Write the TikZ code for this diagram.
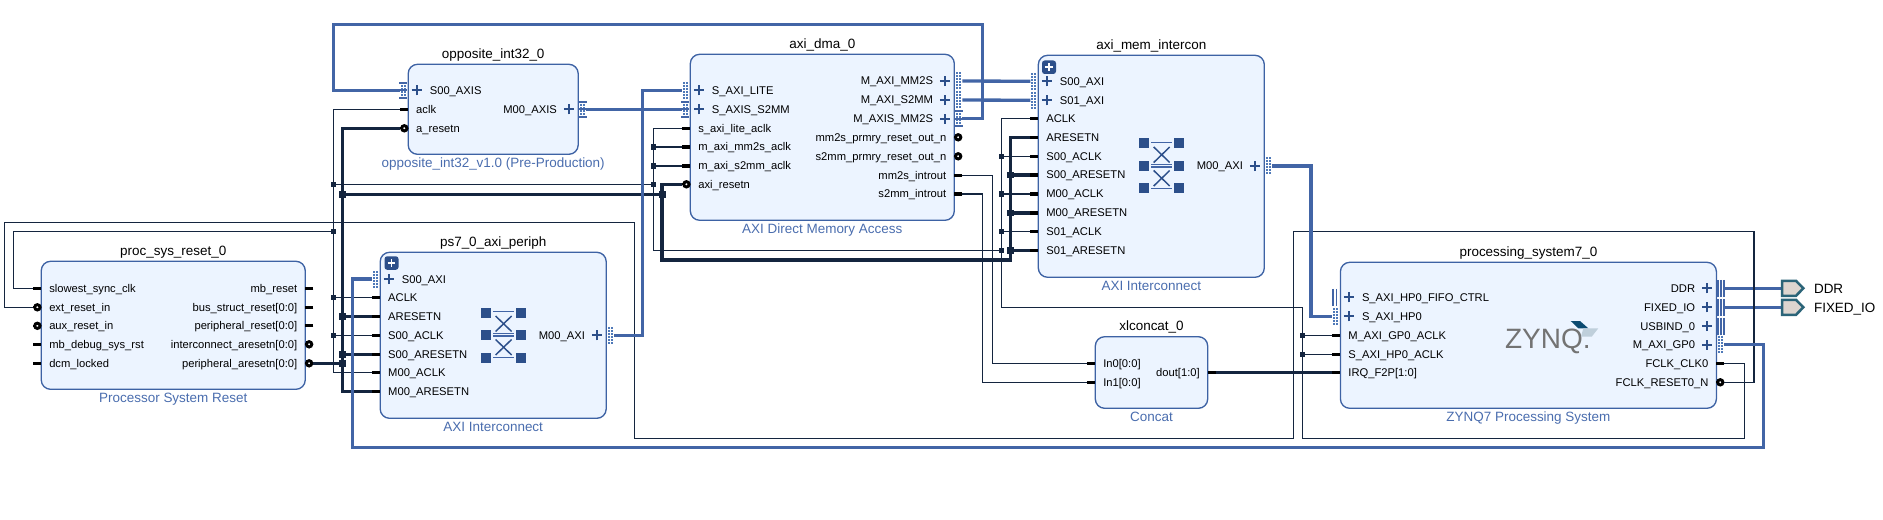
\documentclass[tikz,border=0pt]{standalone}
\usepackage{fontspec}
\setmainfont{Liberation Sans}
\definecolor{blkedge}{HTML}{3D62A4}
\definecolor{blkfill}{HTML}{ECF4FF}
\definecolor{subcol}{HTML}{4A6DAE}
\definecolor{wirecol}{HTML}{14253F}
\definecolor{buscol}{HTML}{4265A6}
\definecolor{dotcol}{HTML}{4F79B8}
\definecolor{iconcol}{HTML}{2C4F8A}
\definecolor{portfill}{HTML}{DDD5CF}
\definecolor{portedge}{HTML}{2B6478}
\definecolor{zynqdark}{HTML}{0B4A70}
\definecolor{zynqlight}{HTML}{BFCFDB}
\tikzset{
  blockbox/.style={draw=blkedge,fill=blkfill,line width=1pt,rounded corners=7pt,inner sep=0pt,outer sep=0pt},
  lbl/.style={font=\fontsize{8.4}{10}\selectfont,text=black,inner sep=0pt,outer sep=0pt,text height=7pt,text depth=1pt},
  titlelbl/.style={font=\fontsize{10.1}{12}\selectfont,text=black,inner sep=0pt,outer sep=0pt,text height=8.25pt,text depth=1pt},
  sublbl/.style={font=\fontsize{10.1}{12}\selectfont,text=subcol,inner sep=0pt,outer sep=0pt,text height=8.25pt,text depth=1pt},
  stub/.style={draw=black,line width=2.4pt},
  ringmark/.style={draw=black,fill=white,line width=2.2pt},
  plusmark/.style={draw=iconcol,line width=1.4pt},
  thinw/.style={draw=wirecol,line width=0.95pt},
  thickw/.style={draw=wirecol,line width=2.6pt},
  busw/.style={draw=buscol,line width=2.5pt},
  jthin/.style={fill=wirecol,inner sep=0pt,outer sep=0pt,minimum size=3.8pt},
  jthick/.style={fill=wirecol,inner sep=0pt,outer sep=0pt,minimum size=5.2pt},
}
% block: name, cx, cy, w, h, title, subtitle
\newcommand{\blk}[7]{%
  \node[blockbox,minimum width=#4*0.75pt,minimum height=#5*0.75pt] (#1) at (#2,#3) {};
  \node[titlelbl,yshift=8pt] (#1-title) at (#1.north) {#6};
  \node[sublbl,yshift=-6.6pt] (#1-sub) at (#1.south) {#7};
}
\newcommand{\dotsat}[2]{% centre x, y (px)
  \foreach \dy in {-7.5,-4.5,-1.5,1.5,4.5,7.5}{
    \fill[dotcol] (#1-1,#2+\dy-1) rectangle (#1+1,#2+\dy+1);
  }
}
% wire pins: block, id, y, text
\newcommand{\pinL}[4]{%
  \path (#1.west |- 0,#3) ++(-6pt,0) coordinate (#1-#2);
  \draw[stub] (#1-#2) -- (#1.west |- 0,#3);
  \path (#1.west |- 0,#3) ++(6pt,0) node[lbl,anchor=west] (#1-#2-t) {#4};
}
\newcommand{\pinR}[4]{%
  \path (#1.east |- 0,#3) ++(6pt,0) coordinate (#1-#2);
  \draw[stub] (#1-#2) -- (#1.east |- 0,#3);
  \path (#1.east |- 0,#3) ++(-6pt,0) node[lbl,anchor=east] (#1-#2-t) {#4};
}
% reset pins
\newcommand{\pinLr}[4]{%
  \path (#1.west |- 0,#3) ++(-6pt,0) coordinate (#1-#2);
  \path (#1.west |- 0,#3) ++(-2.9pt,0) coordinate (#1-#2-c);
  \draw[stub,line width=1.6pt] (#1-#2) -- (#1.west |- 0,#3);
  \draw[ringmark] (#1-#2-c) circle[radius=2pt];
  \path (#1.west |- 0,#3) ++(6pt,0) node[lbl,anchor=west] (#1-#2-t) {#4};
}
\newcommand{\pinRr}[4]{%
  \path (#1.east |- 0,#3) ++(6pt,0) coordinate (#1-#2);
  \path (#1.east |- 0,#3) ++(2.9pt,0) coordinate (#1-#2-c);
  \draw[stub,line width=1.6pt] (#1-#2) -- (#1.east |- 0,#3);
  \draw[ringmark] (#1-#2-c) circle[radius=2pt];
  \path (#1.east |- 0,#3) ++(-6pt,0) node[lbl,anchor=east] (#1-#2-t) {#4};
}
% interface pins: block, id, y, text, kind (dots/bars/lines)
\newcommand{\pinLi}[5]{%
  \path (#1.west |- 0,#3) ++(-6pt,0) coordinate (#1-#2);
  \path (#1.west |- 0,#3) ++(6.4pt,0) coordinate (#1-#2-p);
  \draw[plusmark] ([xshift=-3.8pt]#1-#2-p) -- ([xshift=3.8pt]#1-#2-p) ([yshift=-3.8pt]#1-#2-p) -- ([yshift=3.8pt]#1-#2-p);
  \path (#1.west |- 0,#3) ++(16.2pt,0) node[lbl,anchor=west] (#1-#2-t) {#4};
  \begin{scope}[shift={(#1.west |- 0,#3)}]\csname kind#5L\endcsname\end{scope}
}
\newcommand{\pinRi}[5]{%
  \path (#1.east |- 0,#3) ++(6pt,0) coordinate (#1-#2);
  \path (#1.east |- 0,#3) ++(-7pt,0) coordinate (#1-#2-p);
  \draw[plusmark] ([xshift=-3.8pt]#1-#2-p) -- ([xshift=3.8pt]#1-#2-p) ([yshift=-3.8pt]#1-#2-p) -- ([yshift=3.8pt]#1-#2-p);
  \path (#1.east |- 0,#3) ++(-16pt,0) node[lbl,anchor=east] (#1-#2-t) {#4};
  \begin{scope}[shift={(#1.east |- 0,#3)}]\csname kind#5R\endcsname\end{scope}
}
\newcommand{\kinddotsL}{\dotsat{-6}{0}\dotsat{-3}{0}}
\newcommand{\kinddotsR}{\dotsat{3}{0}\dotsat{6}{0}}
\newcommand{\kindbarsL}{\dotsat{-6}{0}\dotsat{-3}{0}%
  \draw[busw,line width=1.5pt] (-9,-7.5) -- (-1,-7.5) (-9,7.5) -- (-1,7.5) (-9,0) -- (-1,0);}
\newcommand{\kindbarsR}{\dotsat{3}{0}\dotsat{6}{0}%
  \draw[busw,line width=1.5pt] (1,-7.5) -- (9,-7.5) (1,7.5) -- (9,7.5) (1,0) -- (9,0);}
\newcommand{\kindlinesL}{\draw[busw,line width=1.2pt] (-7.5,-8.5) -- (-7.5,8.5) (-4,-8.5) -- (-4,8.5);}
\newcommand{\kindlinesR}{\draw[busw,line width=1.2pt] (1.5,-8.5) -- (1.5,8.5) (4.5,-8.5) -- (4.5,8.5) (7.8,-8.5) -- (7.8,8.5);}
% crossbar icon
\newcommand{\xbar}[2]{%
  \begin{scope}[shift={(#1,#2)}]
    \foreach \sx in {-17.5,17.5}\foreach \sy in {-22.5,0,22.5}{
      \fill[iconcol] (\sx-5,\sy-5) rectangle (\sx+5,\sy+5);}
    \draw[draw=buscol,line width=1pt] (-10.5,-23.3) -- (10.5,-23.3) (-10.5,-1.2) -- (10.5,-1.2) (-10.5,1) -- (10.5,1) (-10.5,22.5) -- (10.5,22.5);
    \draw[draw=iconcol,line width=1.1pt] (-8,-19) -- (8,-3.5) (8,-19) -- (-8,-3.5) (-8,4.5) -- (8,20) (8,4.5) -- (-8,20);
  \end{scope}
}
\newcommand{\addbtn}[2]{%
  \fill[iconcol,rounded corners=2pt] (#1,#2) rectangle (#1+14,#2+13.5);
  \draw[white,line width=1.2pt] (#1+3.2,#2+6.75) -- (#1+10.8,#2+6.75) (#1+7,#2+3) -- (#1+7,#2+10.5);
}
\begin{document}
\begin{tikzpicture}[x=0.75pt,y=-0.75pt]
\useasboundingbox (0,0) rectangle (1883,520);
% blocks
\blk{proc}{173.25}{325.3}{264}{128}{proc\_sys\_reset\_0}{Processor System Reset}
\blk{periph}{493.2}{335.3}{226}{166}{ps7\_0\_axi\_periph}{AXI Interconnect}
\blk{opp}{493.2}{109.3}{170}{90}{opposite\_int32\_0}{opposite\_int32\_v1.0 (Pre-Production)}
\blk{dma}{822.3}{137.3}{264}{166}{axi\_dma\_0}{AXI Direct Memory Access}
\blk{mem}{1151.3}{166.3}{226}{222}{axi\_mem\_intercon}{AXI Interconnect}
\blk{zynq}{1528.4}{335.3}{376}{146}{processing\_system7\_0}{ZYNQ7 Processing System}
\blk{con}{1151.5}{372.5}{112.4}{71.6}{xlconcat\_0}{Concat}
% proc pins
\pinL{proc}{slow}{288.3}{slowest\_sync\_clk}
\pinLr{proc}{ext}{307.3}{ext\_reset\_in}
\pinLr{proc}{aux}{325.8}{aux\_reset\_in}
\pinL{proc}{dbg}{344.3}{mb\_debug\_sys\_rst}
\pinL{proc}{dcm}{363.3}{dcm\_locked}
\pinR{proc}{mbr}{288.3}{mb\_reset}
\pinR{proc}{bus}{307.3}{bus\_struct\_reset[0:0]}
\pinR{proc}{prs}{325.8}{peripheral\_reset[0:0]}
\pinRr{proc}{ica}{344.3}{interconnect\_aresetn[0:0]}
\pinRr{proc}{per}{363.3}{peripheral\_aresetn[0:0]}
% periph pins
\pinLi{periph}{s}{279}{S00\_AXI}{dots}
\pinL{periph}{aclk}{297.3}{ACLK}
\pinL{periph}{arst}{316.3}{ARESETN}
\pinL{periph}{sclk}{335.3}{S00\_ACLK}
\pinL{periph}{srst}{354.3}{S00\_ARESETN}
\pinL{periph}{mclk}{372.7}{M00\_ACLK}
\pinL{periph}{mrst}{391.3}{M00\_ARESETN}
\pinRi{periph}{m}{335.3}{M00\_AXI}{dots}
% opposite pins
\pinLi{opp}{s}{90.3}{S00\_AXIS}{bars}
\pinL{opp}{aclk}{109.3}{aclk}
\pinLr{opp}{rst}{128.3}{a\_resetn}
\pinRi{opp}{m}{109.3}{M00\_AXIS}{bars}
% dma pins
\pinLi{dma}{lite}{90.3}{S\_AXI\_LITE}{dots}
\pinLi{dma}{sin}{109.3}{S\_AXIS\_S2MM}{bars}
\pinL{dma}{laclk}{128.3}{s\_axi\_lite\_aclk}
\pinL{dma}{mclk}{147}{m\_axi\_mm2s\_aclk}
\pinL{dma}{sclk}{166}{m\_axi\_s2mm\_aclk}
\pinLr{dma}{rst}{184.3}{axi\_resetn}
\pinRi{dma}{mm}{81}{M\_AXI\_MM2S}{dots}
\pinRi{dma}{ms}{100}{M\_AXI\_S2MM}{dots}
\pinRi{dma}{mx}{118.7}{M\_AXIS\_MM2S}{bars}
\pinRr{dma}{pm}{137.3}{mm2s\_prmry\_reset\_out\_n}
\pinRr{dma}{ps}{156.3}{s2mm\_prmry\_reset\_out\_n}
\pinR{dma}{imm}{175.3}{mm2s\_introut}
\pinR{dma}{ism}{194}{s2mm\_introut}
% mem pins
\pinLi{mem}{s0}{81.3}{S00\_AXI}{dots}
\pinLi{mem}{s1}{100.3}{S01\_AXI}{dots}
\pinL{mem}{aclk}{118.3}{ACLK}
\pinL{mem}{arst}{137.3}{ARESETN}
\pinL{mem}{s0clk}{156.3}{S00\_ACLK}
\pinL{mem}{s0rst}{175}{S00\_ARESETN}
\pinL{mem}{mclk}{194}{M00\_ACLK}
\pinL{mem}{mrst}{213}{M00\_ARESETN}
\pinL{mem}{s1clk}{231.7}{S01\_ACLK}
\pinL{mem}{s1rst}{250.3}{S01\_ARESETN}
\pinRi{mem}{m}{166}{M00\_AXI}{dots}
% concat pins
\pinL{con}{in0}{363.3}{In0[0:0]}
\pinL{con}{in1}{382.3}{In1[0:0]}
\pinR{con}{d}{372.5}{dout[1:0]}
% zynq pins
\pinLi{zynq}{fifo}{297.3}{S\_AXI\_HP0\_FIFO\_CTRL}{lines}
\pinLi{zynq}{hp}{316.3}{S\_AXI\_HP0}{dots}
\pinL{zynq}{gpclk}{335.3}{M\_AXI\_GP0\_ACLK}
\pinL{zynq}{hpclk}{354.3}{S\_AXI\_HP0\_ACLK}
\pinL{zynq}{irq}{372.5}{IRQ\_F2P[1:0]}
\pinRi{zynq}{ddr}{288.3}{DDR}{lines}
\pinRi{zynq}{fio}{307.3}{FIXED\_IO}{lines}
\pinRi{zynq}{usb}{326}{USBIND\_0}{lines}
\pinRi{zynq}{gp}{344.7}{M\_AXI\_GP0}{dots}
\pinR{zynq}{clk}{363.3}{FCLK\_CLK0}
\pinRr{zynq}{rst}{382.3}{FCLK\_RESET0\_N}
% icons
\xbar{503.6}{335}
\xbar{1161.7}{166}
\addbtn{384.5}{256.3}
\addbtn{1042}{60.5}
% zynq logo
\node[inner sep=0pt,outer sep=0pt,anchor=west,text=black!55,font=\fontsize{21}{22}\selectfont,text height=15pt,text depth=0pt] (zynqlogo) at (1505,338.5) {ZYNQ.};
\fill[zynqdark] (1570.7,321) -- (1580,321) -- (1588.3,328.3) -- (1578.3,328.3) -- cycle;
\fill[zynqlight] (1583.3,328.3) -- (1598.3,328.3) -- (1591.7,336.7) -- (1581,336.7) -- cycle;
% external ports
\coordinate (ddrport) at (1782,288.3);
\coordinate (fioport) at (1782,307.3);
\draw[busw] (zynq-ddr) -- (ddrport);
\draw[busw] (zynq-fio) -- (fioport);
\foreach \py in {288.3,307.3}{
  \draw[draw=portedge,fill=portfill,line width=1.9pt,line join=miter] (1782,\py-7.5) -- (1796,\py-7.5) -- (1803.3,\py) -- (1796,\py+7.5) -- (1782,\py+7.5) -- cycle;
}
\node[titlelbl,anchor=west] (ddrlbl) at (1814,288.3) {DDR};
\node[titlelbl,anchor=west] (fiolbl) at (1814,307.3) {FIXED\_IO};
% thin junctions
\foreach \n/\jx/\jy in {a/1302.3/335.3,b/1302.3/354.3,c/1001.3/156.3,d/1001.3/194,e/1001.3/231.7,f/1001.3/250.3,g/653.3/147,h/653.3/166,i/653.3/184.3,k/333.5/184.3,l/333.5/231.3,m/333.5/297.3,n/333.5/335.3}{
  \node[jthin] (jc\n) at (\jx,\jy) {};
}
\foreach \n/\jx/\jy in {a/342.4/194.3,b/342.4/316.3,c/342.4/354.3,d/342.4/363.3,e/662.2/194.3,f/1010.7/175,g/1010.7/213,h/1010.7/250.3}{
  \node[jthick] (jr\n) at (\jx,\jy) {};
}
% clock net
\draw[thinw] (zynq-clk) -| (1744.6,438.3) -| (1302.3,307.3) -| (1001.3,200) |- (mem-aclk);
\draw[thinw] (zynq-gpclk) -- (jca.center);
\draw[thinw] (zynq-hpclk) -- (jcb.center);
\draw[thinw] (mem-s0clk) -- (jcc.center);
\draw[thinw] (mem-mclk) -- (jcd.center);
\draw[thinw] (mem-s1clk) -- (jce.center);
\draw[thinw] (jcf.center) -- (653.3,250.3) |- (dma-laclk);
\draw[thinw] (dma-mclk) -- (jcg.center);
\draw[thinw] (dma-sclk) -- (jch.center);
\draw[thinw] (jci.center) -- (jck.center);
\draw[thinw] (opp-aclk) -| (333.5,340) |- (periph-mclk);
\draw[thinw] (jcl.center) -| (13.5,260) |- (proc-slow);
\draw[thinw] (periph-aclk) -- (jcm.center);
\draw[thinw] (periph-sclk) -- (jcn.center);
% reset net
\draw[thinw] (zynq-rst) -| (1754,231.5) -| (1293.5,438.3) -| (634.5,222.3) -| (4.5,300) |- (proc-ext);
% peripheral reset
\draw[thickw] (opp-rst) -| (342.4,300) |- (periph-mrst);
\draw[thickw] (proc-per) -- (jrd.center);
\draw[thickw] (periph-arst) -- (jrb.center);
\draw[thickw] (periph-srst) -- (jrc.center);
\draw[thickw] (jra.center) -- (jre.center);
\draw[thickw] (dma-rst) -| (662.2,260) -| (1010.7,200) |- (mem-arst);
\draw[thickw] (mem-s0rst) -- (jrf.center);
\draw[thickw] (mem-mrst) -- (jrg.center);
\draw[thickw] (mem-s1rst) -- (jrh.center);
% interrupts
\draw[thinw] (dma-imm) -| (992.3,300) |- (con-in0);
\draw[thinw] (dma-ism) -| (982.7,300) |- (con-in1);
\draw[thickw] (con-d) -- (zynq-irq);
% AXI buses
\draw[busw] (periph-m) -| (642.8,200) |- (dma-lite);
\draw[busw] (dma-mx) -| (982.7,24.3) -| (333.5,60) |- (opp-s);
\draw[busw] (opp-m) -- (dma-sin);
\draw[busw] (dma-mm) -- (mem-s0);
\draw[busw] (dma-ms) -- (mem-s1);
\draw[busw] (mem-m) -| (1311,250) |- (zynq-hp);
\draw[busw] (zynq-gp) -| (1763.8,447.7) -| (352.2,400) |- (periph-s);
\end{tikzpicture}
\end{document}
